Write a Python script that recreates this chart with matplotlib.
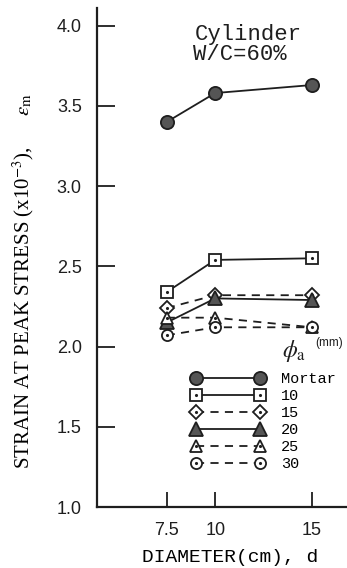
import matplotlib
matplotlib.use("Agg")
import matplotlib.pyplot as plt
from matplotlib.legend_handler import HandlerTuple

plt.rcParams['mathtext.fontset'] = 'stix'

diam = [7.5, 10, 15]
labels = ["Mortar", "10", "15", "20", "25", "30"]
mortar = [3.40, 3.58, 3.63]
agg10 = [2.34, 2.54, 2.55]
agg15 = [2.24, 2.32, 2.32]
agg20 = [2.15, 2.30, 2.29]
agg25 = [2.18, 2.18, 2.12]
agg30 = [2.07, 2.12, 2.12]
yticks = [1.0, 1.5, 2.0, 2.5, 3.0, 3.5, 4.0]
xticks = [7.5, 10, 15]

ink = "#1e1e1e"
gray = "#555555"
dash = (0, (4.5, 3.5))

fig = plt.figure(figsize=(3.47, 5.68), dpi=100)
ax = fig.add_axes([97/347, 61/568, 250/347, 499/568])

# (values, marker, face, linestyle, dot inside, size)
styles = [
    (mortar, "o", gray, "-", False, 9.5),
    (agg10, "s", "white", "-", True, 8),
    (agg15, "D", "white", dash, True, 7.5),
    (agg20, "^", gray, "-", False, 9.5),
    (agg25, "^", "white", dash, True, 8.5),
    (agg30, "o", "white", dash, True, 8),
]

handles = []
for vals, mk, fc, ls, dot, ms in styles:
    l, = ax.plot(diam, vals, color=ink, lw=1.3, linestyle=ls, marker=mk,
                 ms=ms, mfc=fc, mec=ink, mew=1.3)
    if dot:
        d, = ax.plot(diam, vals, linestyle="none", marker=".", ms=2.5, color=ink)
        handles.append((l, d))
    else:
        handles.append((l,))

ax.set_xlim(3.9, 16.8)
ax.set_ylim(1.0, 4.11)
ax.set_xticks(xticks)
ax.set_xticklabels(["7.5", "10", "15"])
ax.set_yticks(yticks)
ax.set_yticklabels([f"{v:.1f}" for v in yticks])
for s in ["top", "right"]:
    ax.spines[s].set_visible(False)
for s in ["left", "bottom"]:
    ax.spines[s].set_linewidth(1.6)
    ax.spines[s].set_color(ink)
ax.tick_params(axis="y", direction="in", length=13, width=1.3, pad=11,
               labelsize=13, colors=ink)
ax.tick_params(axis="x", direction="in", length=11, width=1.3, pad=11,
               labelsize=13, colors=ink)
for t in ax.get_xticklabels() + ax.get_yticklabels():
    t.set_fontfamily("Liberation Sans")

ax.set_xlabel("DIAMETER(cm), d", fontsize=14, family="Liberation Mono")
ax.xaxis.set_label_coords(0.532, -0.085)
ax.set_ylabel(r"STRAIN AT PEAK STRESS (x10$^{-3}$),      $\varepsilon_{\rm m}$",
              fontsize=15, family="Liberation Serif")
ax.yaxis.set_label_coords(-0.245, 0.453)

ax.text(0.392, 0.968, "Cylinder", transform=ax.transAxes, fontsize=16,
        family="Liberation Mono", va="top", ha="left", color=ink)
ax.text(0.384, 0.928, "W/C=60%", transform=ax.transAxes, fontsize=16,
        family="Liberation Mono", va="top", ha="left", color=ink)

ax.text(0.74, 0.30, r"$\phi_{\rm a}$", transform=ax.transAxes, fontsize=17,
        ha="left", va="baseline", color=ink)
ax.text(0.872, 0.322, "(mm)", transform=ax.transAxes, fontsize=8.5,
        family="Liberation Sans", ha="left", va="baseline", color=ink)

leg = ax.legend(handles, labels, handler_map={tuple: HandlerTuple(ndivide=1, pad=0)},
                numpoints=2, frameon=False, handlelength=4.8, handletextpad=1.1,
                labelspacing=0.2, borderpad=0, borderaxespad=0,
                prop={"family": "Liberation Mono", "size": 11},
                loc="upper left", bbox_to_anchor=(191/347, 1 - 372/568),
                bbox_transform=fig.transFigure)

fig.savefig("out.png", dpi=100)
